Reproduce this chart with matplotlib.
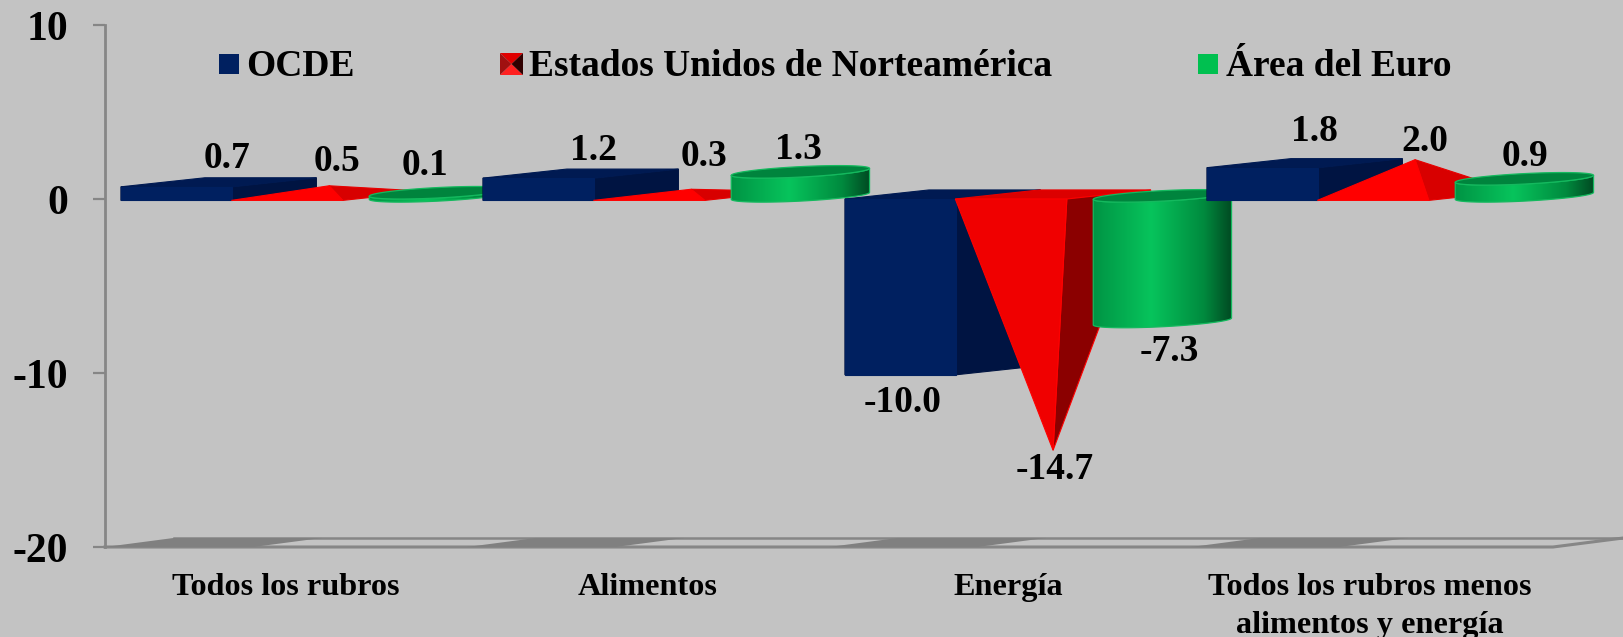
import numpy as np
import matplotlib
matplotlib.use("Agg")
import matplotlib.pyplot as plt
from matplotlib.colors import LinearSegmentedColormap
from matplotlib.patches import Polygon

# datos
categorias = ["Todos los rubros", "Alimentos", "Energía", "Todos los rubros menos\nalimentos y energía"]
ocde = [0.7, 1.2, -10.0, 1.8]
eeuu = [0.5, 0.3, -14.7, 2.0]
euro = [0.1, 1.3, -7.3, 0.9]
y_ticks = [-20, -10, 0, 10]
y_labels = ["-20", "-10", "0", "10"]
nombres = ["OCDE", "Estados Unidos de Norteamérica", "Área del Euro"]

W, H = 1623, 637
FONDO = "#C3C3C3"
GRIS = "#868686"
FUENTE = "Liberation Serif"

# geometria del "3d" en unidades de categoria / valor
BAR_W = 0.308
DEPTH_X = 0.232
DEPTH_Y = 0.52
BASE = -0.08
START_OCDE = 0.044
START_EEUU = 0.349
START_EURO = 0.651
CYL_A = 0.191
CYL_TILT = 0.2
CYL_B = 0.3

# ajuste de etiquetas en pixeles
nudge_ocde = [(8.5, 28.5), (13, 28), (-40.5, -29.5), (9.5, 36.5)]
nudge_eeuu = [(7.5, 28.5), (12.5, 37.5), (1.5, -14.5), (9.5, 22.5)]
nudge_euro = [(-13, 31.5), (-2, 26.5), (7, -25.5), (1, 26.5)]
pos_cat = [0.5, 1.5, 2.494, 3.494]

fig = plt.figure(figsize=(W / 100, H / 100), dpi=100, facecolor=FONDO)
ax = fig.add_axes([105 / W, 1 - 547 / H, (1553 - 105) / W, (547 - 25) / H])
ax.patch.set_alpha(0)

zorder = [5]


def poly(pts, color, edge=None, lw=0.8):
    zorder[0] += 1
    p = Polygon(pts, closed=True, facecolor=color, edgecolor=edge or color, lw=lw,
                clip_on=False, zorder=zorder[0])
    ax.add_patch(p)
    return p


def bloque(x, v):
    lo, hi = min(v, 0) + BASE * (v > 0) - 0.1 * (v < 0), max(v, 0)
    r = x + BAR_W
    poly([(x, lo), (r, lo), (r + DEPTH_X, lo + DEPTH_Y), (r + DEPTH_X, hi + DEPTH_Y), (r, hi), (x, hi)], "#001442")
    poly([(x, hi), (r, hi), (r + DEPTH_X, hi + DEPTH_Y), (x + DEPTH_X, hi + DEPTH_Y)], "#001A52")
    poly([(x, lo), (r, lo), (r, hi), (x, hi)], "#002060")


def piramide(x, v):
    r = x + BAR_W
    apex = (x + BAR_W / 2 + DEPTH_X / 2, v + DEPTH_Y / 2)
    if v > 0:
        poly([(r, BASE), (r + DEPTH_X, BASE + DEPTH_Y), apex], "#D80000", "#E80000")
        poly([(x, BASE), (r, BASE), apex], "#FF0000")
    else:
        poly([(x, 0), (r, 0), (r + DEPTH_X, DEPTH_Y), (x + DEPTH_X, DEPTH_Y)], "#DC0000", "#E80000")
        poly([(r, 0), (r + DEPTH_X, DEPTH_Y), apex], "#8B0000", "#FF0000")
        poly([(x, 0), (r, 0), apex], "#F00000", "#FF0000")


cmap_cil = LinearSegmentedColormap.from_list(
    "cil", [(0, "#009444"), (0.42, "#07C45C"), (0.8, "#008A3E"), (1, "#004A22")])
gradiente = np.linspace(0, 1, 256).reshape(1, -1)


def cilindro(x, v):
    cx = x + BAR_W / 2 + DEPTH_X / 2
    cy = DEPTH_Y / 2 + BASE
    y_a, y_b = min(v + DEPTH_Y / 2, cy), max(v + DEPTH_Y / 2, cy)

    t = np.linspace(np.pi, 2 * np.pi, 60)
    ex = cx + CYL_A * np.cos(t)
    abajo = y_a + CYL_TILT * np.cos(t) + CYL_B * np.sin(t)
    arriba = y_b + CYL_TILT * np.cos(t) + CYL_B * np.sin(t)
    pts = np.column_stack([np.r_[ex, ex[::-1]], np.r_[abajo, arriba[::-1]]])

    cuerpo = poly(pts, "none", "#14B95E", 0.9)
    zorder[0] += 1
    im = ax.imshow(gradiente, cmap=cmap_cil, aspect="auto", zorder=cuerpo.get_zorder() - 0.5,
                   extent=(cx - CYL_A, cx + CYL_A, y_a - 1, y_b + 1))
    im.set_clip_path(cuerpo)
    im.set_clip_box(fig.bbox)

    t = np.linspace(0, 2 * np.pi, 120)
    tapa = np.column_stack([cx + CYL_A * np.cos(t), y_b + CYL_TILT * np.cos(t) + CYL_B * np.sin(t)])
    poly(tapa, "#00843D", "#14B95E", 0.9)


# piso
for i in range(len(categorias)):
    poly([(i, -20), (i + 0.41, -20), (i + 0.41 + 0.19, -20 + DEPTH_Y), (i + 0.19, -20 + DEPTH_Y)], "#808080", "none", 0)
ax.plot([0, 4, 4 + 0.195], [-20, -20, -20 + DEPTH_Y], color=GRIS, lw=2.2, clip_on=False, zorder=5)
ax.plot([0.19, 4 + 0.195], [-20 + DEPTH_Y, -20 + DEPTH_Y], color=GRIS, lw=1.8, clip_on=False, zorder=5)

# barras, de izquierda a derecha
for i in range(len(categorias)):
    bloque(i + START_OCDE, ocde[i])
    piramide(i + START_EEUU, eeuu[i])
    cilindro(i + START_EURO, euro[i])

# etiquetas de datos
for serie, start, nudges in [(ocde, START_OCDE, nudge_ocde), (eeuu, START_EEUU, nudge_eeuu), (euro, START_EURO, nudge_euro)]:
    for i, v in enumerate(serie):
        ax.annotate("%.1f" % v, (i + start + BAR_W / 2 + DEPTH_X / 2, v), xytext=nudges[i],
                    textcoords="offset pixels", ha="center", va="center", family=FUENTE,
                    weight="bold", size=27, color="black", zorder=200, annotation_clip=False)

ax.set_xlim(0, 4)
ax.set_ylim(-20, 10)
ax.set_yticks(y_ticks)
ax.set_yticklabels(y_labels, family=FUENTE, weight="bold", size=30)
ax.tick_params(axis="y", length=8.6, width=1.6, color=GRIS, pad=18)
ax.set_xticks(pos_cat)
ax.set_xticklabels(categorias, family=FUENTE, weight="bold", size=23.2, linespacing=1.37)
ax.tick_params(axis="x", length=0, pad=19)
for s in ["top", "right", "bottom"]:
    ax.spines[s].set_visible(False)
ax.spines["left"].set_color(GRIS)
ax.spines["left"].set_linewidth(2)


# leyenda, en pixeles de la figura
def px(x, y):
    return x / W, 1 - y / H


def swatch(pts, color):
    fig.add_artist(Polygon([px(*p) for p in pts], closed=True, facecolor=color, edgecolor="none",
                           transform=fig.transFigure))


swatch([(219, 54), (239, 54), (239, 74), (219, 74)], "#002060")
swatch([(500, 53), (523, 53), (511.5, 64)], "#E00000")
swatch([(500, 75), (523, 75), (511.5, 64)], "#FF2020")
swatch([(500, 53), (500, 75), (511.5, 64)], "#A01010")
swatch([(523, 53), (523, 75), (511.5, 64)], "#300000")
swatch([(1198, 54), (1218, 54), (1218, 74), (1198, 74)], "#00C050")
for nombre, lx in zip(nombres, [246.5, 529, 1226]):
    fx, fy = px(lx, 67)
    fig.text(fx, fy, nombre, family=FUENTE, weight="bold", size=27, ha="left", va="center")

fig.savefig("out.png", dpi=100, facecolor=FONDO)
